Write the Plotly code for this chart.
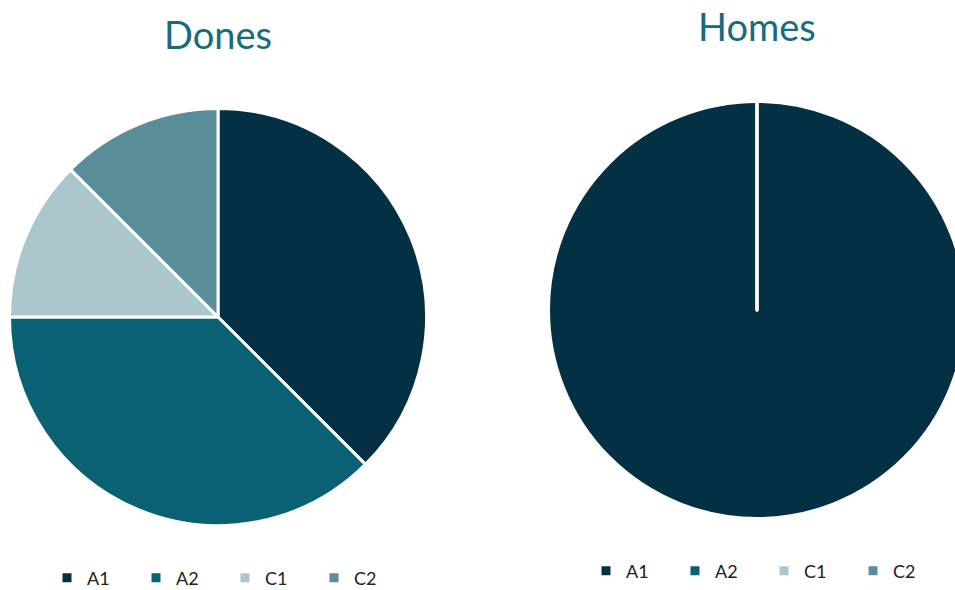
import plotly.graph_objects as go

labels = ["A1", "A2", "C1", "C2"]
dones_values = [3, 3, 1, 1]
homes_values = [1, 0, 0, 0]
titles = ["Dones", "Homes"]
colors = ["#033042", "#0B6174", "#A9C7CC", "#5A8D9A"]

# canvas a bit larger than the 955x590 window; the overflow is clipped like in the reference
W, H = 975, 630
PAD = 0.5


def fy(py):
    """pixel row from top -> paper fraction"""
    return 1 - py / H


# second legend needs distinct label strings (pie legend entries are merged by label)
homes_labels = [lab + " " for lab in labels]

fig = go.Figure()
fig.add_trace(go.Pie(
    labels=labels, values=dones_values, sort=False, direction="clockwise", rotation=0,
    marker=dict(colors=colors, line=dict(color="white", width=3)),
    textinfo="none", hoverinfo="label+value",
    domain=dict(x=[(10 - PAD) / W, (426 + PAD) / W], y=[fy(525 + PAD), fy(109 - PAD)]),
    legend="legend",
))
fig.add_trace(go.Pie(
    labels=homes_labels, values=homes_values, sort=False, direction="clockwise", rotation=0,
    marker=dict(colors=colors, line=dict(color="white", width=3)),
    textinfo="none", hoverinfo="label+value",
    domain=dict(x=[(549 - PAD) / W, (965 + PAD) / W], y=[fy(518 + PAD), fy(102 - PAD)]),
    legend="legend2",
))

title_font = dict(family="Lato", size=38, color="#176B7D", weight=400)
fig.add_annotation(text=titles[0], x=218 / W, y=fy(34), xref="paper", yref="paper",
                   showarrow=False, xanchor="center", yanchor="middle", font=title_font)
fig.add_annotation(text=titles[1], x=757 / W, y=fy(26), xref="paper", yref="paper",
                   showarrow=False, xanchor="center", yanchor="middle", font=title_font)

legend_common = dict(orientation="h", xanchor="left", yanchor="middle",
                     font=dict(family="Lato", size=18, color="#222222"),
                     entrywidth=44, entrywidthmode="pixels", itemwidth=30,
                     bgcolor="rgba(0,0,0,0)", traceorder="normal")
fig.update_layout(
    width=W, height=H,
    margin=dict(l=0, r=0, t=0, b=0),
    paper_bgcolor="white",
    showlegend=True,
    legend=dict(x=47 / W, y=fy(578), **legend_common),
    legend2=dict(x=586 / W, y=fy(571), **legend_common),
)

fig.write_html("out.html", config={"displayModeBar": False},
               post_script="document.documentElement.style.overflow='hidden';document.body.style.overflow='hidden';document.body.style.margin='0';")
